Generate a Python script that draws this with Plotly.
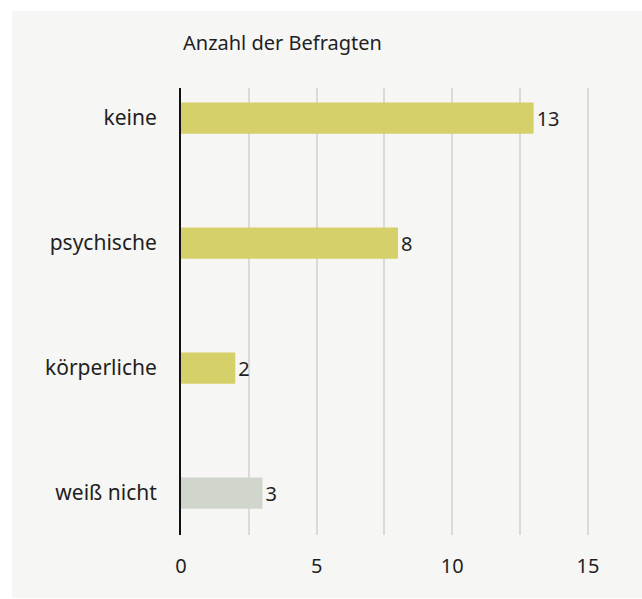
import plotly.graph_objects as go

# Survey answers: number of respondents per category
categories = ["keine", "psychische", "körperliche", "weiß nicht"]
counts = [13, 8, 2, 3]
bar_colors = ["#d6d06a", "#d6d06a", "#d6d06a", "#d0d6cc"]

x_tickvals = [0, 2.5, 5, 7.5, 10, 12.5, 15]
x_ticktext = ["0", "", "5", "", "10", "", "15"]

FONT = "'Noto Sans', 'Open Sans', sans-serif"
TEXT = "#1f1f1f"

fig = go.Figure(
    go.Bar(
        x=counts,
        y=categories,
        orientation="h",
        width=0.25,
        marker=dict(color=bar_colors, line=dict(width=0)),
        text=[str(v) for v in counts],
        textposition="outside",
        textfont=dict(family=FONT, size=20, color=TEXT),
        cliponaxis=False,
        hoverinfo="skip",
    )
)

fig.update_layout(
    width=642,
    height=599,
    paper_bgcolor="white",
    plot_bgcolor="rgba(0,0,0,0)",
    margin=dict(l=181, r=27, t=88, b=64),
    showlegend=False,
    font=dict(family=FONT, size=18, color=TEXT),
    shapes=[
        dict(
            type="rect", xref="paper", yref="paper",
            x0=-0.389, x1=1.07, y0=-0.141, y1=1.172,
            fillcolor="#f6f6f4", line=dict(width=0), layer="below",
        )
    ],
    annotations=[
        dict(
            text="Anzahl der Befragten", xref="paper", yref="paper",
            x=0, y=1.1007, xanchor="left", yanchor="middle",
            showarrow=False, font=dict(family=FONT, size=20, color=TEXT),
        )
    ],
)

fig.update_xaxes(
    range=[0, 16],
    tickvals=x_tickvals,
    ticktext=x_ticktext,
    showgrid=True,
    gridcolor="#dadad8",
    gridwidth=2,
    zeroline=False,
    showline=False,
    ticks="",
    ticklabelstandoff=17,
    tickfont=dict(family=FONT, size=20, color=TEXT),
)

fig.update_yaxes(
    categoryorder="array",
    categoryarray=categories,
    range=[3.336, -0.24],
    showgrid=False,
    zeroline=False,
    showline=True,
    linecolor="#111111",
    linewidth=2,
    ticks="",
    ticklabelstandoff=18,
    tickfont=dict(family=FONT, size=21, color=TEXT),
)

fig.write_html("out.html")
